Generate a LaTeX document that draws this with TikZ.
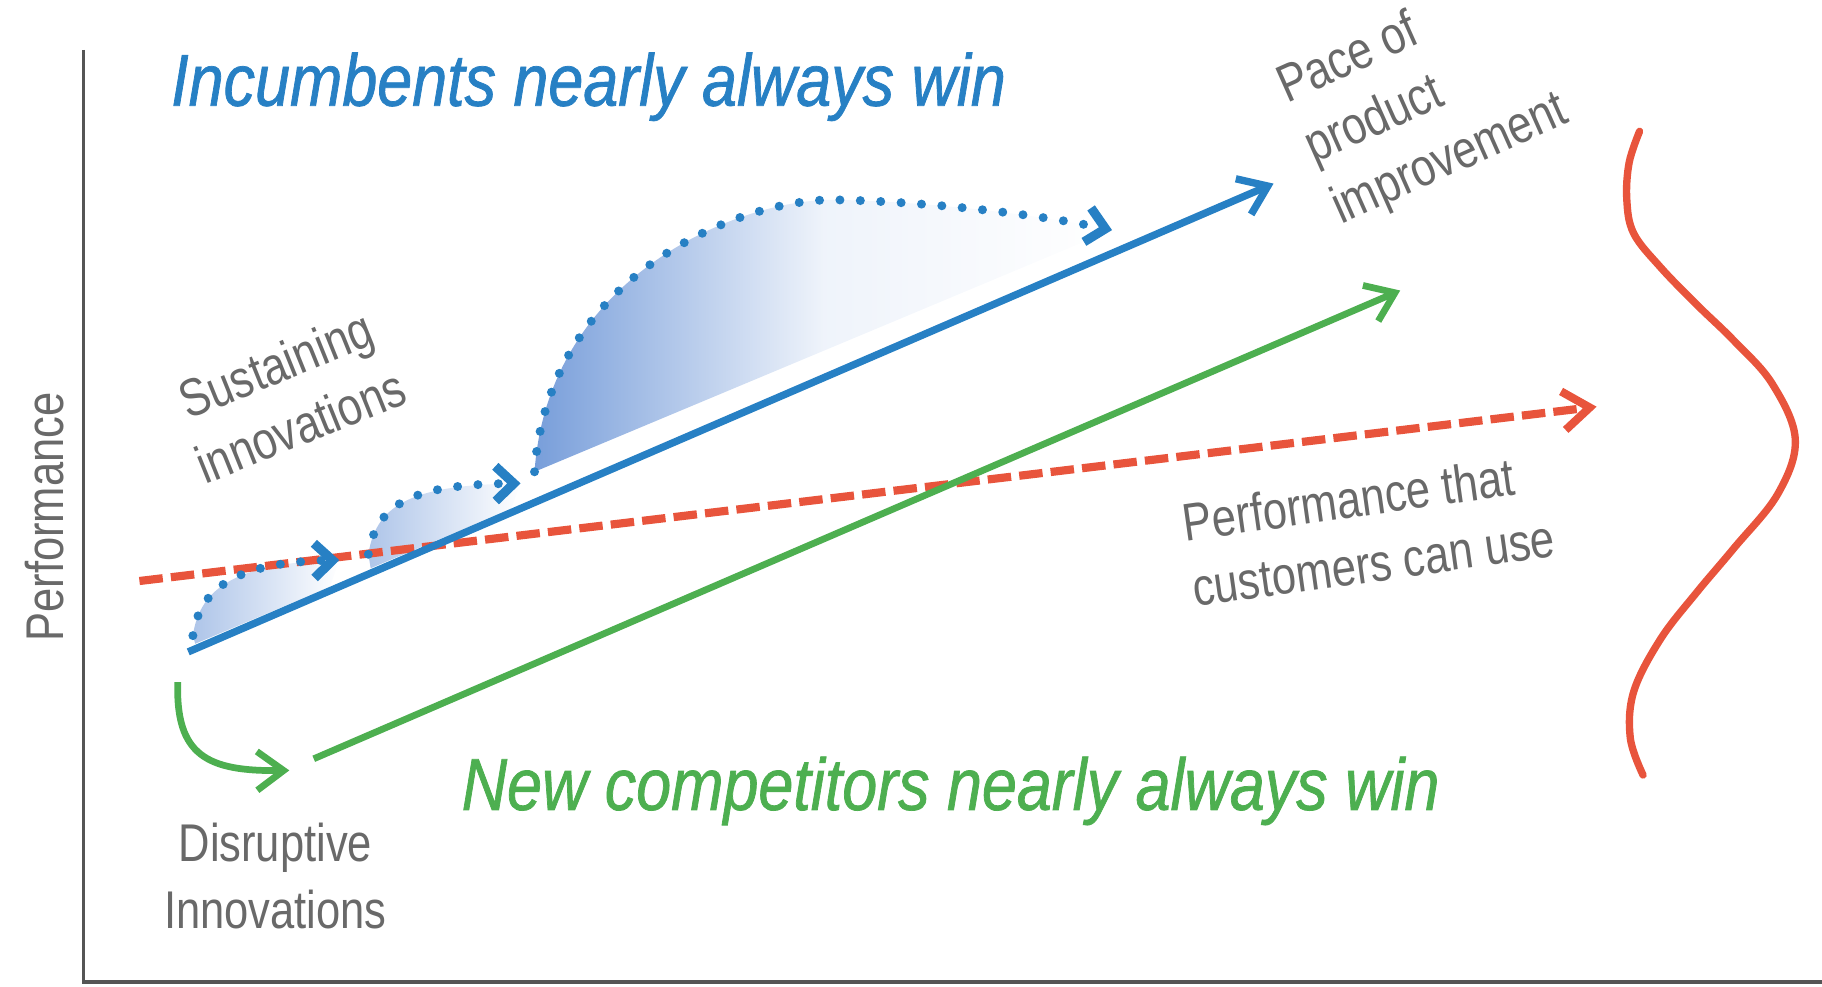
\documentclass[tikz,border=0pt]{standalone}
\usepackage{fontspec}
\usepackage{tikz}
\usetikzlibrary{arrows.meta}

\newfontfamily\labelfont{Liberation Sans}[FakeStretch=0.82]
\newfontfamily\headfont{Liberation Sans}[FakeStretch=0.855, FakeBold=1]

\definecolor{incblue}{RGB}{39,128,196}
\definecolor{newgreen}{RGB}{77,175,80}
\definecolor{usered}{RGB}{232,84,60}
\definecolor{labelgray}{RGB}{105,105,105}
\definecolor{axisgray}{RGB}{85,85,85}
\definecolor{shadeblue}{RGB}{120,158,218}

\begin{document}
\begin{tikzpicture}[x=0.02cm, y=-0.02cm,
    graylabel/.style={text=labelgray, inner sep=0pt, font=\labelfont\fontsize{26pt}{32.5pt}\selectfont},
    headline/.style={inner sep=0pt, font=\headfont\itshape\fontsize{36pt}{40pt}\selectfont},
    barb/.style={-{Straight Barb[length=13pt,width=19pt]}},
    sustarc/.style={incblue, line width=4.4pt, line cap=round, dash pattern=on 0pt off 10pt,
      -{Straight Barb[length=9pt,width=17pt,line width=4.5pt]}}]
\useasboundingbox (0,0) rectangle (1568,849);

      % Axes
      \coordinate (ytop) at (72,43);
      \coordinate (origin) at (72,845);
      \coordinate (xend) at (1568,845);
      \draw[axisgray, line width=1.6pt] (ytop) -- (origin) -- (xend);
      \node[graylabel, rotate=90] (perf) at (38,445) {Performance};

      % Headlines
      \node[headline, text=incblue, anchor=base west] (incwin) at (147,91) {Incumbents nearly always win};
      \node[headline, text=newgreen, anchor=base west] (newwin) at (397,697) {New competitors nearly always win};

      % Sustaining jumps: end points
      \coordinate (s1a) at (166,547);
      \coordinate (s1b) at (292,482);
      \coordinate (s2a) at (317,477);
      \coordinate (s2b) at (448,416);
      \coordinate (s3a) at (460,406);
      \coordinate (s3m) at (720,172);
      \coordinate (s3b) at (957,198);

      % Shaded areas below the jumps
      \shade[left color=shadeblue!60, right color=white] (s1a) .. controls (172,505) and (205,484) .. (s1b) -- (284,505) -- (168,554) -- cycle;
      \shade[left color=shadeblue!60, right color=white] (s2a) .. controls (324,432) and (358,417) .. (s2b) -- (440,438) -- (319,489) -- cycle;
      \shade[left color=shadeblue, right color=white, middle color=shadeblue!12] (s3a) .. controls (472,235) and (640,170) .. (s3m) .. controls (810,174) and (900,186) .. (s3b) -- cycle;

      % Main lines
      \coordinate (use0) at (120,500);
      \coordinate (use1) at (1374,350);
      \coordinate (inc0) at (162,561);
      \coordinate (inc1) at (1096,158);
      \coordinate (new0) at (270,653);
      \coordinate (new1) at (1205,250);
      \draw[usered, line width=4pt, dash pattern=on 11.5pt off 4pt, barb] (use0) -- (use1);
      \draw[newgreen, line width=3.3pt, barb] (new0) -- (new1);
      \draw[incblue, line width=3.6pt, barb] (inc0) -- (inc1);

      % Dotted jumps
      \draw[sustarc] (s1a) .. controls (172,505) and (205,484) .. (s1b);
      \draw[sustarc] (s2a) .. controls (324,432) and (358,417) .. (s2b);
      \draw[sustarc] (s3a) .. controls (472,235) and (640,170) .. (s3m) .. controls (810,174) and (900,186) .. (s3b);

      % Disruptive step down
      \coordinate (d0) at (153,587);
      \coordinate (d1) at (249,663);
      \draw[newgreen, line width=3.3pt, barb] (d0) .. controls (151,650) and (178,664) .. (d1);

      % Spread of customer needs
      \draw[usered, line width=3.6pt, line cap=round] plot[smooth, tension=0.6] coordinates {
        (1411,113) (1402,140) (1400,172) (1406,201) (1429,230) (1460,262) (1492,293)
        (1525,330) (1545,378) (1530,425) (1492,472) (1460,510) (1429,550) (1406,595)
        (1403,635) (1414,667)};

      % Labels
      \node[graylabel, rotate=22, align=center] (sust) at (248,340) {Sustaining\\innovations};
      \node[graylabel, rotate=24, align=left] (pace) at (1225,86) {Pace of\\product\\improvement};
      \node[graylabel, rotate=8, align=left] (canuse) at (1178,456) {Performance that\\customers can use};
      \node[graylabel, align=center] (disr) at (237,754) {Disruptive\\Innovations};

\end{tikzpicture}
\end{document}
